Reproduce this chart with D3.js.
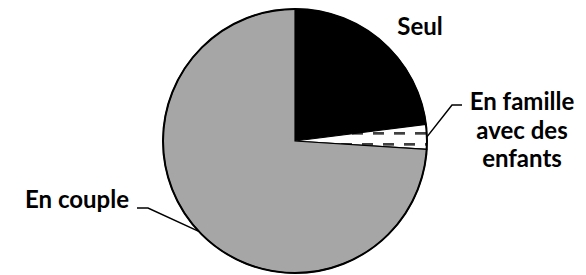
<!DOCTYPE html>
<html>
<head>
<meta charset="utf-8">
<script src="https://cdn.jsdelivr.net/npm/d3@7"></script>
<style>
    body { margin: 0; background: #fff; }
    text { font-family: Lato, "DejaVu Sans", sans-serif; font-weight: bold; fill: #000; }
</style>
</head>
<body>
<div id="chart"></div>
<script>
    var categories = ['Seul', 'En famille avec des enfants', 'En couple'];
    var values = [23, 3, 74];
    var labelLines = [['Seul'], ['En famille', 'avec des', 'enfants'], ['En couple']];

    var width = 586, height = 275;
    var cx = 295, cy = 141, radius = 132;

    var svg = d3.select('#chart')
        .append('svg')
        .attr('width', width)
        .attr('height', height);

    // dashed hatch for the small slice
    var pattern = svg.append('defs').append('pattern')
        .attr('id', 'dashes')
        .attr('patternUnits', 'userSpaceOnUse')
        .attr('width', 21)
        .attr('height', 22)
        .attr('x', 414)
        .attr('y', 123);
    pattern.append('rect').attr('width', 21).attr('height', 22).attr('fill', '#fff');
    pattern.append('rect').attr('x', 0).attr('y', 0).attr('width', 11).attr('height', 2.7).attr('fill', '#404040');
    pattern.append('rect').attr('x', 10).attr('y', 11).attr('width', 11).attr('height', 2.7).attr('fill', '#404040');

    var fills = ['#000000', 'url(#dashes)', '#a6a6a6'];

    var pie = d3.pie().sort(null).value(function (d) { return d; });
    var arcs = pie(values);
    var arc = d3.arc().innerRadius(0).outerRadius(radius);

    var g = svg.append('g').attr('transform', 'translate(' + cx + ',' + cy + ')');

    g.selectAll('path')
        .data(arcs)
        .enter()
        .append('path')
        .attr('d', arc)
        .attr('fill', function (d, i) { return fills[i]; })
        .attr('stroke', '#000')
        .attr('stroke-width', 1.2);

    g.append('circle')
        .attr('r', radius)
        .attr('fill', 'none')
        .attr('stroke', '#000')
        .attr('stroke-width', 2);

    // label placement (x, first baseline, anchor) and leader elbow
    var labelPos = [
        { x: 420, y: 35, anchor: 'middle', leader: null },
        { x: 522, y: 110, anchor: 'middle', leader: [[452, 105], [462, 105]] },
        { x: 129, y: 208, anchor: 'end', leader: [[148, 208], [137, 208]] }
    ];

    function edgePoint (d) {
        var a = (d.startAngle + d.endAngle) / 2;
        return [Math.sin(a) * radius, -Math.cos(a) * radius];
    }

    arcs.forEach(function (d, i) {
        var p = labelPos[i];
        if (p.leader) {
            var e = edgePoint(d);
            var pts = [[e[0] + cx, e[1] + cy]].concat(p.leader);
            svg.append('path')
                .attr('d', d3.line()(pts))
                .attr('fill', 'none')
                .attr('stroke', '#000')
                .attr('stroke-width', 1.5);
        }
        var t = svg.append('text')
            .attr('x', p.x)
            .attr('y', p.y)
            .attr('text-anchor', p.anchor)
            .style('font-size', '24px');
        labelLines[i].forEach(function (line, j) {
            t.append('tspan')
                .attr('x', p.x)
                .attr('dy', j === 0 ? 0 : 28.5)
                .text(line);
        });
    });
</script>
</body>
</html>
